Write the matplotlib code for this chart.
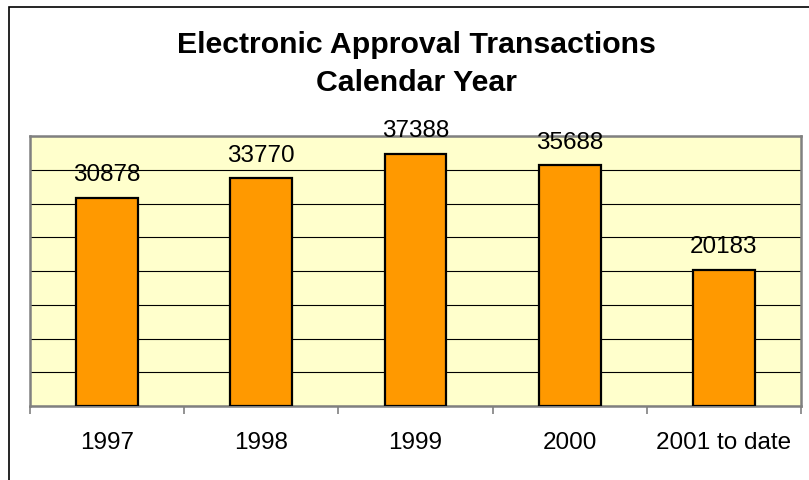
import matplotlib
matplotlib.use('Agg')
from matplotlib import pyplot as plt
from matplotlib.patches import Rectangle
import numpy as np

years = ['1997', '1998', '1999', '2000', '2001 to date']
transactions = [30878, 33770, 37388, 35688, 20183]

plt.rcParams['font.family'] = ['Liberation Sans', 'DejaVu Sans']

W, H = 809, 481
fig = plt.figure(figsize=(W / 100, H / 100), dpi=100)

# outer chart frame (runs off the bottom/right of the picture)
fig.patches.append(Rectangle((9 / W, -0.1), 2, (H - 8) / H + 0.1,
                             transform=fig.transFigure, fill=False,
                             edgecolor='black', lw=1.2, clip_on=False))

ax = fig.add_axes([30 / W, (H - 407) / H, 771 / W, 270 / H])
ax.set_facecolor('#FFFFCC')

x = np.arange(len(years))
ax.bar(x, transactions, width=0.4, color='#FF9900', edgecolor='black',
       lw=1.6, zorder=3)

for xi, v in zip(x, transactions):
    ax.annotate(str(v), (xi, v), xytext=(0, 12.5), textcoords='offset points',
                ha='center', va='baseline', fontsize=17.5)

ax.set_xlim(-0.5, len(years) - 0.5)
ax.set_ylim(0, 40000)
ax.set_yticks(np.arange(0, 40001, 5000))
ax.set_yticklabels([])
ax.tick_params(axis='y', length=0)
ax.yaxis.grid(True, color='black', lw=0.8, zorder=1)

ax.set_xticks(x)
ax.set_xticklabels(years, fontsize=17.5)
ax.tick_params(axis='x', which='major', length=0, pad=18)
ax.set_xticks(np.arange(-0.5, len(years), 1), minor=True)
ax.tick_params(axis='x', which='minor', length=6, width=1.2, color='#808080')

for s in ax.spines.values():
    s.set_color('#808080')
    s.set_linewidth(1.8)

fig.text(416 / W, 1 - 45 / H, 'Electronic Approval Transactions', ha='center',
         va='center', fontsize=21.8, fontweight='bold')
fig.text(416 / W, 1 - 83 / H, 'Calendar Year', ha='center',
         va='center', fontsize=21.8, fontweight='bold')

plt.savefig('out.png', dpi=100)
